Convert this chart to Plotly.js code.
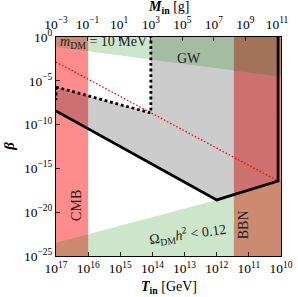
<!DOCTYPE html>
<html>
<head>
<meta charset="utf-8">
<script src="https://cdn.plot.ly/plotly-3.0.1.min.js"></script>
<style>html,body{margin:0;padding:0;background:#fff;}#plot{width:298px;height:297px;}</style>
</head>
<body>
<div id="plot"></div>
<script>
// Bands (T_in in GeV, beta)
const cmbT = [1e17, 1e16, 1e16, 1e17];
const cmbBeta = [1e-25, 1e-25, 1, 1];
const bbnT = [2.92e11, 1e10, 1e10, 2.92e11];
const bbnBeta = [1e-25, 1e-25, 1, 1];

// Gray excluded region
const grayT = [1e17, 1.12e14, 1.12e14, 1.23e10, 1.23e10, 1e12, 1e17];
const grayBeta = [1.95e-6, 2.09e-9, 1, 1, 3.63e-17, 2.51e-19, 3.55e-9];

// GW region (top)
const gwT = [1e17, 1e10, 1e10, 1e17];
const gwBeta = [1, 1, 2.82e-5, 7.24e-2];

// Omega_DM region (bottom)
const omT = [1e17, 1e17, 1e12, 1.23e10, 1e10, 1e10];
const omBeta = [1e-25, 3.16e-24, 2.51e-19, 3.63e-17, 3.63e-17, 1e-25];

// Lines
const solidT = [1e17, 1e12, 1.23e10, 1.23e10];
const solidBeta = [3.55e-9, 2.51e-19, 3.63e-17, 1];
const redT = [1e17, 1.23e10];
const redBeta = [1.41e-3, 3.63e-17];
const dotT = [1e17, 1.12e14, 1.12e14];
const dotBeta = [1.95e-6, 2.09e-9, 1];
const dotLeftT = [1e17, 1e17];
const dotLeftBeta = [1.95e-6, 6.3e-8];

// Ticks
const xTickVals = [1e17, 1e16, 1e15, 1e14, 1e13, 1e12, 1e11, 1e10];
const xTickText = ['10<sup>17</sup>','10<sup>16</sup>','10<sup>15</sup>','10<sup>14</sup>','10<sup>13</sup>','10<sup>12</sup>','10<sup>11</sup>','10<sup>10</sup>'];
const mTickVals = [1e-3, 1e-1, 1e1, 1e3, 1e5, 1e7, 1e9, 1e11];
const mTickText = ['10<sup>−3</sup>','10<sup>−1</sup>','10<sup>1</sup>','10<sup>3</sup>','10<sup>5</sup>','10<sup>7</sup>','10<sup>9</sup>','10<sup>11</sup>'];
const yTickVals = [1, 1e-5, 1e-10, 1e-15, 1e-20, 1e-25];
const yTickText = ['10<sup>0</sup>','10<sup>−5</sup>','10<sup>−10</sup>','10<sup>−15</sup>','10<sup>−20</sup>','10<sup>−25</sup>'];

const FONT = 'Liberation Serif, DejaVu Serif, serif';
const red = 'rgba(255,0,0,0.45)';
const gray = 'rgba(0,0,0,0.2)';
const green = 'rgba(0,128,0,0.2)';

function poly(x, y, color) {
  return {x: x, y: y, type: 'scatter', mode: 'lines', fill: 'toself', fillcolor: color,
          line: {width: 0}, hoverinfo: 'skip', showlegend: false};
}
function line(x, y, color, width, dash) {
  return {x: x, y: y, type: 'scatter', mode: 'lines', line: {color: color, width: width, dash: dash},
          hoverinfo: 'skip', showlegend: false};
}

const data = [
  poly(cmbT, cmbBeta, red),
  poly(bbnT, bbnBeta, red),
  poly(grayT, grayBeta, gray),
  poly(gwT, gwBeta, green),
  poly(omT, omBeta, green),
  line(redT, redBeta, 'red', 1.3, '1.5px,2px'),
  line(dotT, dotBeta, 'black', 2.8, '2.8px,2.8px'),
  line(dotLeftT, dotLeftBeta, 'black', 2.8, '2.8px,2.8px'),
  line(solidT, solidBeta, 'black', 2.8, 'solid'),
  {x: [1e-3, 1e11], y: [1e-30, 1e-30], xaxis: 'x2', yaxis: 'y', type: 'scatter', mode: 'lines',
   line: {width: 0}, hoverinfo: 'skip', showlegend: false}
];

const axBase = {
  type: 'log', showgrid: false, zeroline: false, showline: true, linecolor: 'black', linewidth: 1,
  ticks: 'inside', ticklen: 4, tickwidth: 0.8, tickcolor: 'black',
  tickfont: {family: FONT, size: 13.5, color: 'black'}, tickmode: 'array'
};

const layout = {
  width: 298, height: 297,
  margin: {l: 56, r: 17, t: 37, b: 41, pad: 0},
  paper_bgcolor: 'white', plot_bgcolor: 'white',
  showlegend: false,
  xaxis: Object.assign({}, axBase, {range: [17, 10], tickvals: xTickVals, ticktext: xTickText, mirror: false}),
  xaxis2: Object.assign({}, axBase, {range: [-3, 11.25], overlaying: 'x', side: 'top', anchor: 'y',
                          tickvals: mTickVals, ticktext: mTickText, ticklabelstandoff: 2}),
  yaxis: Object.assign({}, axBase, {range: [-25, 0], tickvals: yTickVals, ticktext: yTickText, mirror: true}),
  annotations: [
    {text: '<i>m</i><sub>DM</sub> = 10 MeV', xref: 'paper', yref: 'paper', x: 0.009, y: 0.973,
     xanchor: 'left', yanchor: 'middle', showarrow: false, font: {family: FONT, size: 14, color: '#222'}},
    {text: 'GW', xref: 'paper', yref: 'paper', x: 0.591, y: 0.904, xanchor: 'center', yanchor: 'middle',
     showarrow: false, font: {family: FONT, size: 14, color: '#222'}},
    {text: 'CMB', xref: 'paper', yref: 'paper', x: 0.093, y: 0.233, xanchor: 'center', yanchor: 'middle',
     textangle: -90, showarrow: false, font: {family: FONT, size: 14, color: '#222'}},
    {text: 'BBN', xref: 'paper', yref: 'paper', x: 0.831, y: 0.145, xanchor: 'center', yanchor: 'middle',
     textangle: -90, showarrow: false, font: {family: FONT, size: 14, color: '#222'}},
    {text: 'Ω<sub>DM</sub><i>h</i><sup>2</sup> < 0.12', xref: 'paper', yref: 'paper', x: 0.586, y: 0.1,
     xanchor: 'center', yanchor: 'middle', textangle: -8, showarrow: false, font: {family: FONT, size: 14, color: '#222'}},
    {text: '<b><i>T</i></b><sub><b>in</b></sub> [GeV]', xref: 'paper', yref: 'paper', x: 0.5, y: -0.146,
     xanchor: 'center', yanchor: 'middle', showarrow: false, font: {family: FONT, size: 14, color: 'black'}},
    {text: '<b><i>M</i></b><sub><b>in</b></sub> [g]', xref: 'paper', yref: 'paper', x: 0.5, y: 1.135,
     xanchor: 'center', yanchor: 'middle', showarrow: false, font: {family: FONT, size: 14, color: 'black'}},
    {text: '<b><i>β</i></b>', xref: 'paper', yref: 'paper', x: -0.21, y: 0.502,
     xanchor: 'center', yanchor: 'middle', textangle: -90, showarrow: false, font: {family: FONT, size: 15, color: 'black'}}
  ]
};

Plotly.newPlot('plot', data, layout, {displayModeBar: false, staticPlot: true});
</script>
</body>
</html>
